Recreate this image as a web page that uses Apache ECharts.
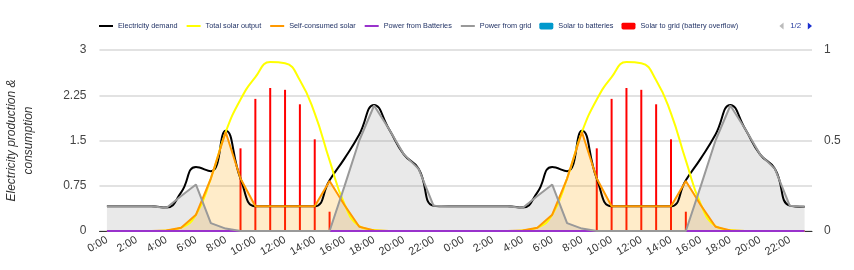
<!DOCTYPE html>
<html><head><meta charset="utf-8">
<script src="https://cdn.jsdelivr.net/npm/echarts@6/dist/echarts.min.js"></script>
<style>html,body{margin:0;padding:0;background:#fff}#c{width:854px;height:270px}</style>
</head><body><div id="c"></div>
<script>
const hours = ["0:00","1:00","2:00","3:00","4:00","5:00","6:00","7:00","8:00","9:00","10:00","11:00","12:00","13:00","14:00","15:00","16:00","17:00","18:00","19:00","20:00","21:00","22:00","23:00",
               "0:00","1:00","2:00","3:00","4:00","5:00","6:00","7:00","8:00","9:00","10:00","11:00","12:00","13:00","14:00","15:00","16:00","17:00","18:00","19:00","20:00","21:00","22:00","23:00"];
const demand = [0.41,0.41,0.41,0.41,0.39,0.64,1.06,0.99,1.66,0.87,0.41,0.41,0.41,0.41,0.41,0.84,1.2,1.6,2.09,1.69,1.27,1.03,0.42,0.41,
                0.41,0.41,0.41,0.41,0.39,0.64,1.06,0.99,1.66,0.87,0.41,0.41,0.41,0.41,0.41,0.84,1.2,1.6,2.09,1.69,1.27,1.03,0.42,0.40];
const solar = [0,0,0,0,0.01,0.055,0.27,0.87,1.64,2.18,2.55,2.80,2.78,2.50,1.95,1.17,0.45,0.08,0.015,0,0,0,0,0,
               0,0,0,0,0.01,0.055,0.27,0.87,1.64,2.18,2.55,2.80,2.78,2.50,1.95,1.17,0.45,0.08,0.015,0,0,0,0,0];
const selfConsumed = [0,0,0,0,0.01,0.055,0.27,0.87,1.64,0.87,0.41,0.41,0.41,0.41,0.41,0.83,0.43,0.07,0.01,0,0,0,0,0,
                      0,0,0,0,0.01,0.055,0.27,0.87,1.64,0.87,0.41,0.41,0.41,0.41,0.41,0.83,0.43,0.07,0.01,0,0,0,0,0];
const fromBatteries = [0,0,0,0,0,0,0,0,0,0,0,0,0,0,0,0,0,0,0,0,0,0,0,0,
                       0,0,0,0,0,0,0,0,0,0,0,0,0,0,0,0,0,0,0,0,0,0,0,0];
const fromGrid = [0.41,0.41,0.41,0.41,0.38,0.58,0.77,0.13,0.04,0,0,0,0,0,0,0,0.74,1.5,2.08,1.69,1.27,1.03,0.42,0.41,
                  0.41,0.41,0.41,0.41,0.38,0.58,0.77,0.13,0.04,0,0,0,0,0,0,0,0.74,1.5,2.08,1.69,1.27,1.03,0.42,0.40];
const toBatteries = [0,0,0,0,0,0,0,0,0,0,0,0,0,0,0,0,0,0,0,0,0,0,0,0,
                     0,0,0,0,0,0,0,0,0,0,0,0,0,0,0,0,0,0,0,0,0,0,0,0];
const toGrid = [0,0,0,0,0,0,0,0,0,1.37,2.19,2.37,2.34,2.10,1.52,0.32,0,0,0,0,0,0,0,0,
                0,0,0,0,0,0,0,0,0,1.37,2.19,2.37,2.34,2.10,1.52,0.32,0,0,0,0,0,0,0,0];
const batteryLevel = [];
const leftTicks = {min: 0, max: 3, interval: 0.75};
const rightTicks = {min: 0, max: 1, interval: 0.5};

const FONT = 'Arial, "Liberation Sans", sans-serif';
const chart = echarts.init(document.getElementById('c'), null, {renderer: 'canvas'});

function line(name, data, color, extra) {
  return Object.assign({
    name: name, type: 'line', data: data, symbol: 'none', showSymbol: false,
    lineStyle: {color: color, width: 2}, itemStyle: {color: color},
    emphasis: {disabled: true}, animation: false
  }, extra || {});
}
function lineItem(name) { return {name: name, itemStyle: {opacity: 0}}; }

chart.setOption({
  animation: false,
  textStyle: {fontFamily: FONT},
  legend: {
    type: 'scroll', left: 93, top: 17, width: 714, padding: 5,
    itemWidth: 14, itemHeight: 7, itemGap: 8,
    textStyle: {fontSize: 7.3, color: '#223366', fontFamily: FONT},
    pageIconColor: '#1a2fd0', pageIconInactiveColor: '#bbb', pageIconSize: 7,
    pageButtonItemGap: 3, pageButtonGap: 40,
    pageTextStyle: {fontSize: 8, color: '#2a3fa0', fontFamily: FONT},
    data: [lineItem('Electricity demand'), lineItem('Total solar output'), lineItem('Self-consumed solar'),
           lineItem('Power from Batteries'), lineItem('Power from grid'), 'Solar to batteries',
           'Solar to grid (battery overflow)', lineItem('Battery state of charge')],
    selected: {'Battery state of charge': false}
  },
  grid: {left: 99.5, right: 42, top: 50, bottom: 39, outerBoundsMode: 'none', containLabel: false},
  xAxis: {
    type: 'category', data: hours, boundaryGap: true,
    axisLine: {lineStyle: {color: '#333', width: 1}},
    axisTick: {show: false},
    axisLabel: {interval: 1, rotate: 30, fontSize: 11, color: '#333', margin: 8, fontFamily: FONT},
    splitLine: {show: false}
  },
  yAxis: [{
    type: 'value', min: leftTicks.min, max: leftTicks.max, interval: leftTicks.interval,
    name: 'Electricity production &\nconsumption', nameLocation: 'middle', nameGap: 62,
    nameTextStyle: {fontSize: 12, fontStyle: 'italic', color: '#333', lineHeight: 17, fontFamily: FONT},
    axisLine: {show: false}, axisTick: {show: false},
    axisLabel: {fontSize: 12, color: '#444', margin: 13, fontFamily: FONT},
    splitLine: {lineStyle: {color: '#d8d8d8', width: 1.5}}
  }, {
    type: 'value', min: rightTicks.min, max: rightTicks.max, interval: rightTicks.interval,
    axisLine: {show: false}, axisTick: {show: false},
    axisLabel: {fontSize: 12, color: '#444', margin: 12, fontFamily: FONT},
    splitLine: {show: false}
  }],
  series: [
    line('Electricity demand', demand, '#000000', {smooth: 0.5, smoothMonotone: 'none'}),
    line('Total solar output', solar, '#ffff00', {smooth: 0.5, smoothMonotone: 'none'}),
    line('Self-consumed solar', selfConsumed, '#ff9900', {areaStyle: {color: 'rgba(255,165,0,0.3)'}}),
    line('Power from Batteries', fromBatteries, '#9933cc', {areaStyle: {color: 'rgba(153,51,204,0.3)'}, z: 3}),
    line('Power from grid', fromGrid, '#999999', {areaStyle: {color: 'rgba(128,128,128,0.25)'}}),
    {name: 'Solar to batteries', type: 'bar', data: toBatteries, barWidth: 2, barGap: '-100%',
     itemStyle: {color: '#0099cc'}, animation: false, emphasis: {disabled: true}},
    {name: 'Solar to grid (battery overflow)', type: 'bar', data: toGrid, barWidth: 2, barGap: '-100%',
     itemStyle: {color: '#ff0000'}, animation: false, emphasis: {disabled: true}},
    line('Battery state of charge', batteryLevel, '#2e7d32', {yAxisIndex: 1})
  ]
});
</script>
</body></html>
